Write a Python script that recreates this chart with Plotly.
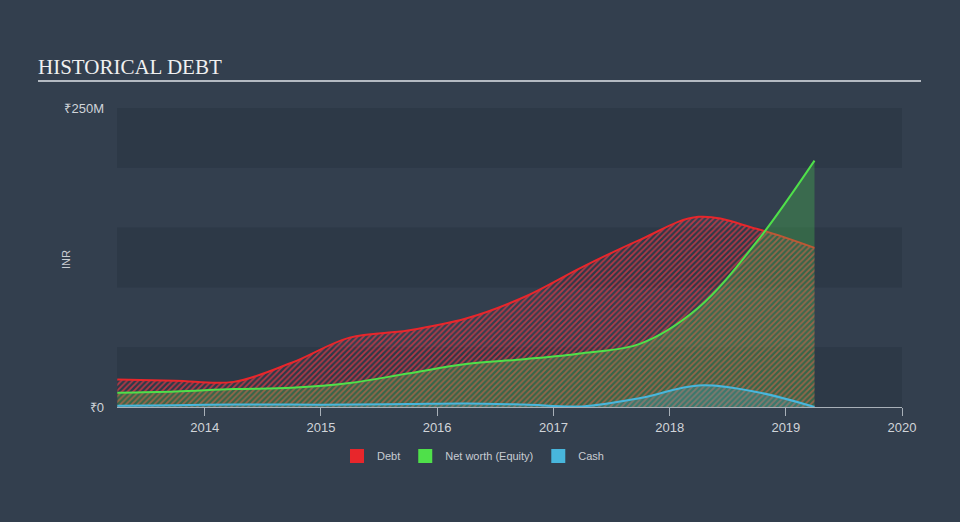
import plotly.graph_objects as go

# ---- data (values in ₹ millions) ----
dates = ["2013-04-01", "2013-10-01", "2014-04-01", "2014-10-01", "2015-04-01",
         "2015-10-01", "2016-04-01", "2016-10-01", "2017-04-01", "2017-10-01",
         "2018-04-01", "2018-10-01", "2019-04-01"]
debt = [23, 22, 21, 37, 58, 64, 74, 92, 117, 140, 159, 149, 133]
equity = [12, 13, 15, 16, 20, 28, 36, 40, 45, 53, 83, 138, 206]
cash = [1, 1.5, 2, 2, 2, 2.5, 3, 2, 0.5, 7.5, 18, 12.5, 0]

year_ticks = ["2014-01-01", "2015-01-01", "2016-01-01", "2017-01-01",
              "2018-01-01", "2019-01-01", "2020-01-01"]
year_labels = ["2014", "2015", "2016", "2017", "2018", "2019", "2020"]
y_ticks = [0, 250]
y_labels = ["₹0", "₹250M"]

BG = "#333f4e"
BAND = "#2d3947"
RED = "#e8262b"
GREEN = "#4fe04a"
BLUE = "#48b6dc"

fig = go.Figure()

fig.add_trace(go.Scatter(
    x=dates, y=debt, mode="lines", name="Debt", showlegend=False,
    line=dict(color=RED, width=2, shape="spline", smoothing=1.0),
    fill="tozeroy",
    fillpattern=dict(shape="/", size=4, solidity=0.45, fillmode="replace",
                     fgcolor="rgba(225,55,70,0.75)", bgcolor="rgba(0,0,0,0)"),
    hoverinfo="skip"))

fig.add_trace(go.Scatter(
    x=dates, y=equity, mode="lines", name="Net worth (Equity)", showlegend=False,
    line=dict(color=GREEN, width=2, shape="spline", smoothing=1.0),
    fill="tozeroy", fillcolor="rgba(80,220,80,0.28)",
    hoverinfo="skip"))

fig.add_trace(go.Scatter(
    x=dates, y=cash, mode="lines", name="Cash", showlegend=False,
    line=dict(color=BLUE, width=2, shape="spline", smoothing=1.0),
    fill="tozeroy", fillcolor="rgba(70,180,220,0.25)",
    hoverinfo="skip"))

# legend swatches
for nm, col in [("Debt", RED), ("Net worth (Equity)", GREEN), ("Cash", BLUE)]:
    fig.add_trace(go.Scatter(x=[None], y=[None], mode="markers", name=nm,
                             marker=dict(symbol="square", size=14, color=col)))

shapes = []
for y0, y1 in [(0, 50), (100, 150), (200, 250)]:
    shapes.append(dict(type="rect", xref="paper", yref="y", x0=0, x1=1, y0=y0, y1=y1,
                       fillcolor=BAND, line=dict(width=0), layer="below"))
shapes.append(dict(type="line", xref="paper", yref="paper",
                   x0=(38 - 117) / 785, x1=(921 - 117) / 785,
                   y0=(407 - 81) / 299, y1=(407 - 81) / 299,
                   line=dict(color="#b4bac2", width=2)))

fig.update_layout(
    width=960, height=522,
    paper_bgcolor=BG, plot_bgcolor=BG,
    margin=dict(l=117, r=58, t=108, b=115),
    shapes=shapes,
    title=dict(text="HISTORICAL DEBT", xref="container", yref="container",
               x=38 / 960, xanchor="left", y=1 - 67 / 522, yanchor="middle",
               font=dict(family="Liberation Serif", size=21, color="#f0f0f0")),
    font=dict(family="Liberation Sans", color="#d0d4d9", size=12),
    showlegend=True,
    legend=dict(orientation="h", x=(473 - 117) / 785, xanchor="center",
                y=(407 - 456) / 299, yanchor="middle",
                font=dict(size=11, color="#c8ccd2"), bgcolor="rgba(0,0,0,0)",
                itemsizing="trace", itemwidth=30),
    annotations=[dict(text="INR", xref="paper", yref="paper",
                      x=(66 - 117) / 785, y=(407 - 260) / 299,
                      xanchor="center", yanchor="middle", textangle=-90,
                      showarrow=False, font=dict(size=11, color="#c8ccd2"))],
    xaxis=dict(type="date", range=["2013-03-31", "2020-01-01"],
               tickvals=year_ticks, ticktext=year_labels,
               showgrid=False, zeroline=False, showline=True,
               linecolor="#a8b0b8", linewidth=1,
               ticks="outside", ticklen=8, tickcolor="#a8b0b8",
               tickfont=dict(size=13, color="#d0d4d9")),
    yaxis=dict(range=[0, 250], tickvals=y_ticks, ticktext=y_labels,
               showgrid=False, zeroline=False, showline=False, ticks="",
               ticklabelstandoff=12,
               tickfont=dict(size=13, color="#d0d4d9")),
)

fig.write_html("out.html")
